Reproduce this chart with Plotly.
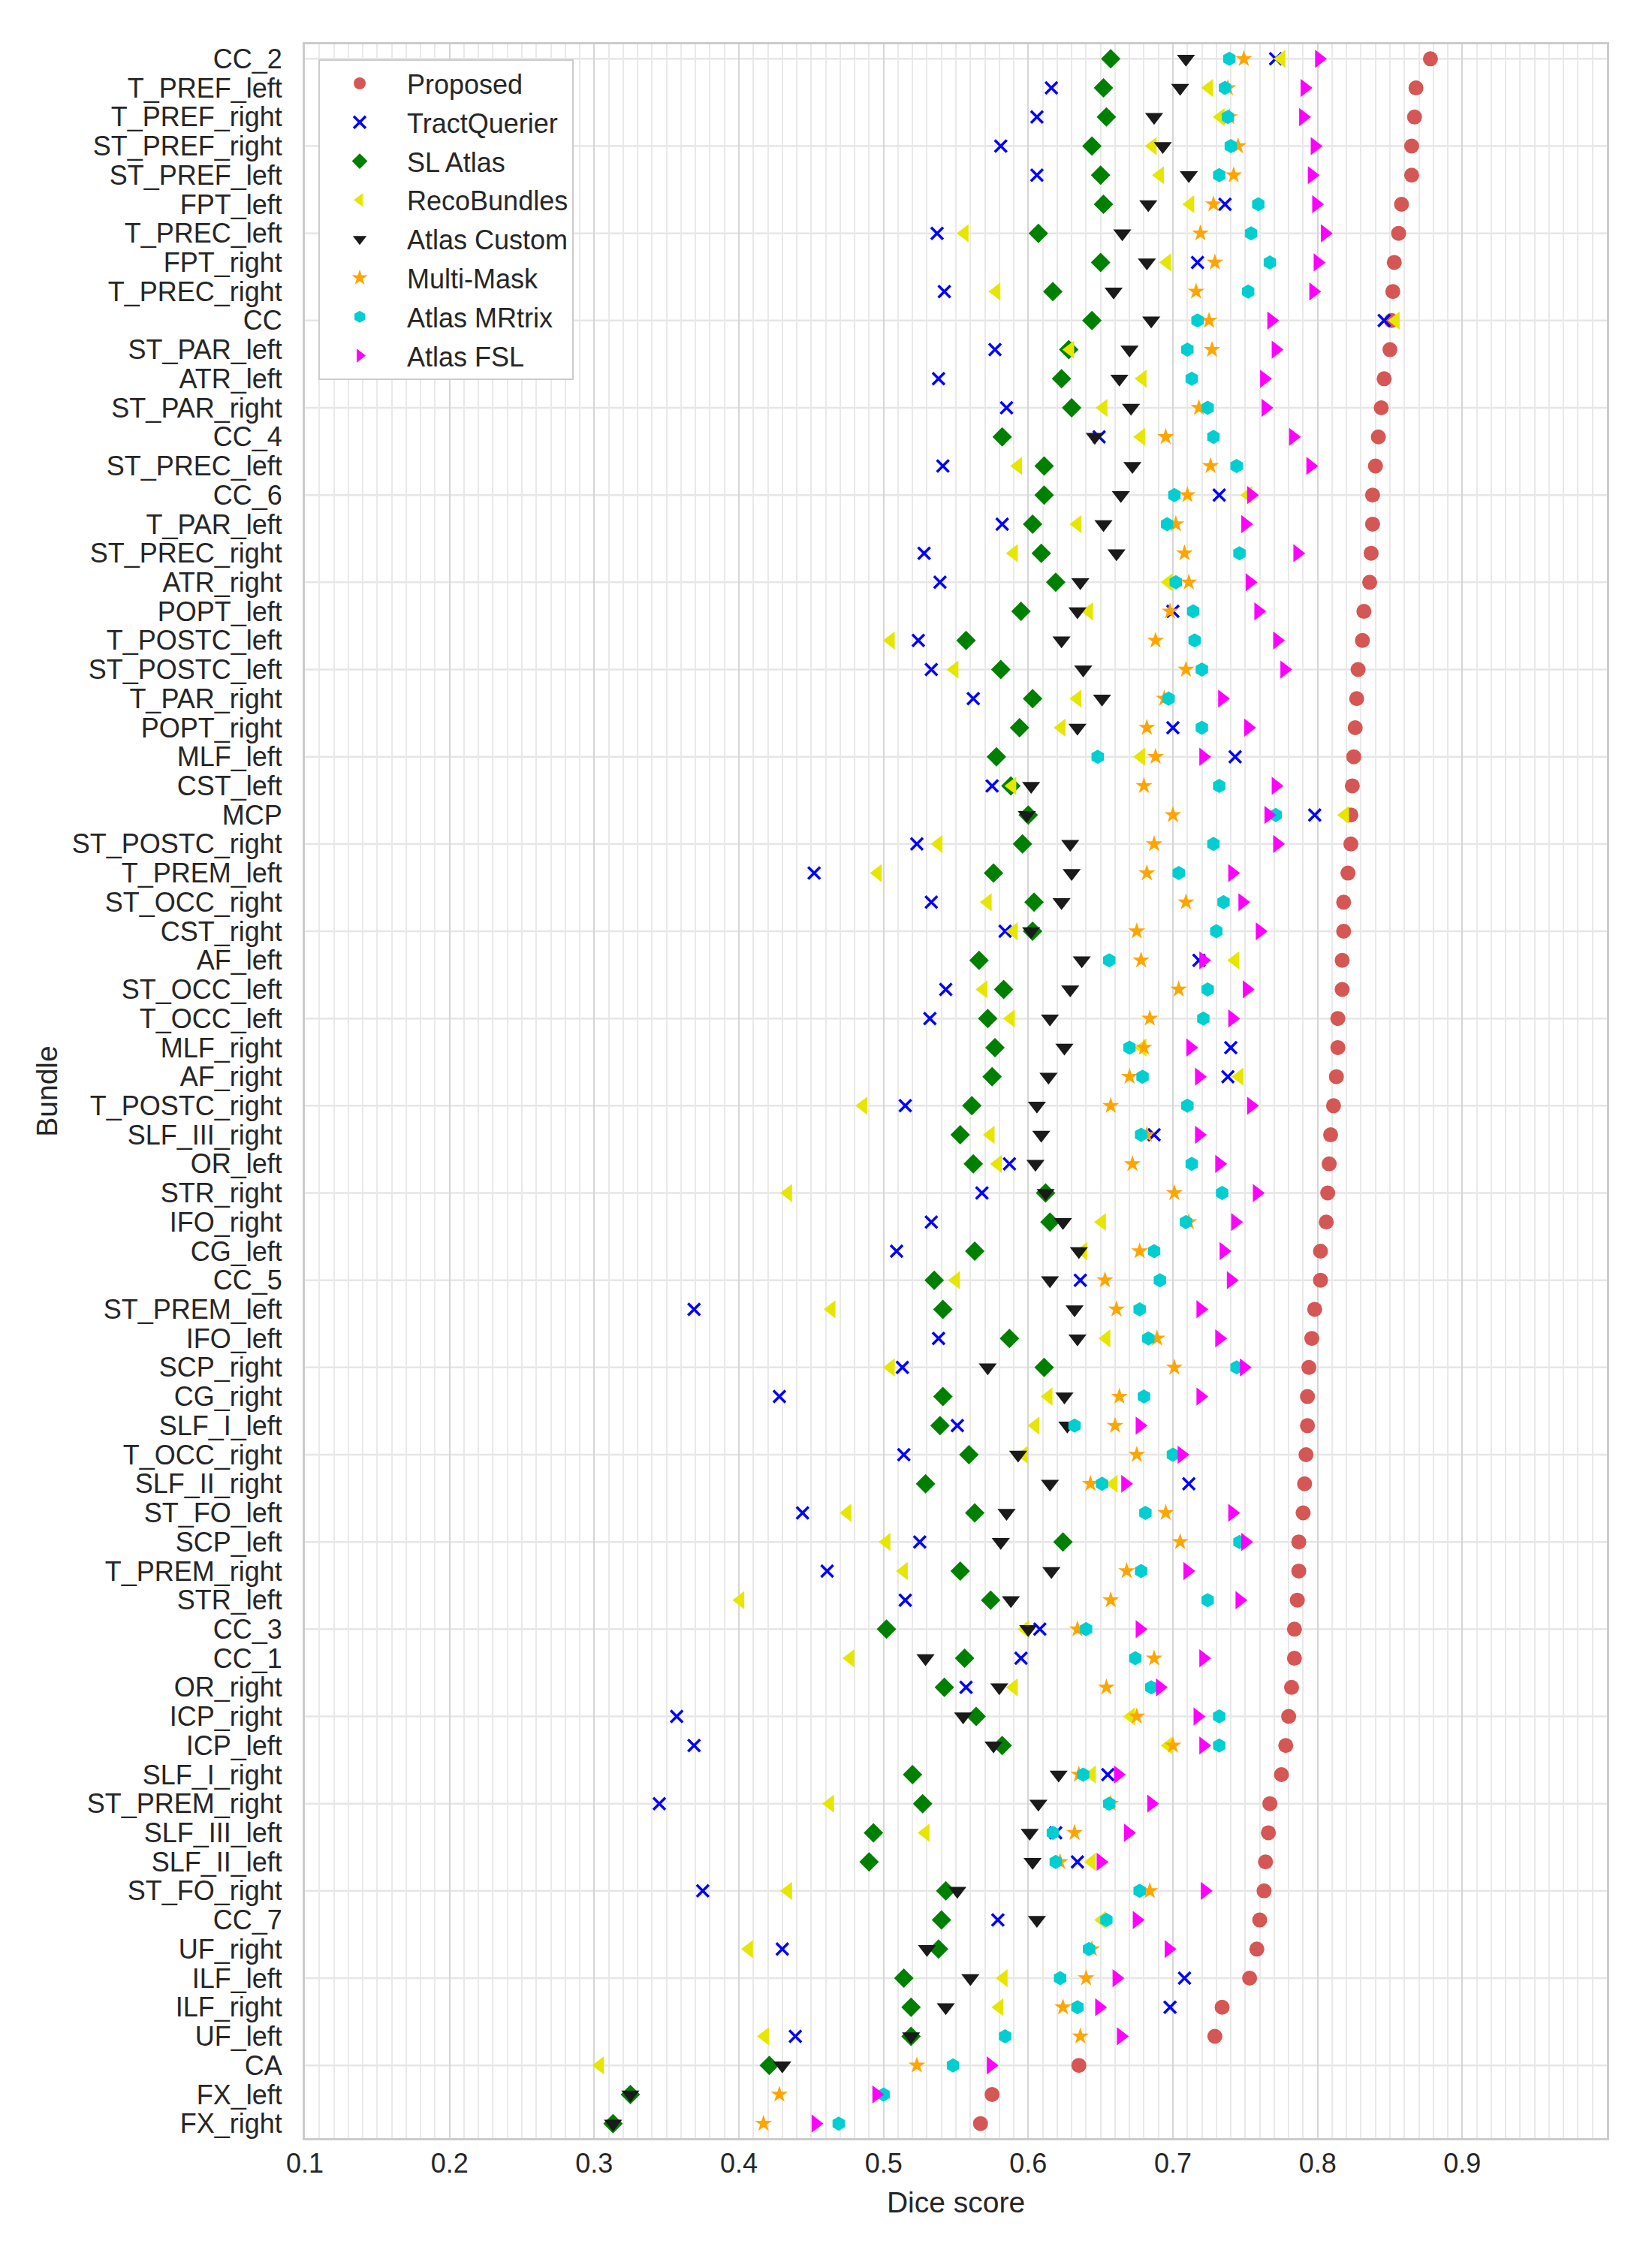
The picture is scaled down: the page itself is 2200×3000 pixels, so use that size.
import plotly.graph_objects as go

bundles = ["CC_2","T_PREF_left","T_PREF_right","ST_PREF_right","ST_PREF_left","FPT_left","T_PREC_left",
"FPT_right","T_PREC_right","CC","ST_PAR_left","ATR_left","ST_PAR_right","CC_4",
"ST_PREC_left","CC_6","T_PAR_left","ST_PREC_right","ATR_right","POPT_left","T_POSTC_left",
"ST_POSTC_left","T_PAR_right","POPT_right","MLF_left","CST_left","MCP","ST_POSTC_right",
"T_PREM_left","ST_OCC_right","CST_right","AF_left","ST_OCC_left","T_OCC_left","MLF_right",
"AF_right","T_POSTC_right","SLF_III_right","OR_left","STR_right","IFO_right","CG_left",
"CC_5","ST_PREM_left","IFO_left","SCP_right","CG_right","SLF_I_left","T_OCC_right",
"SLF_II_right","ST_FO_left","SCP_left","T_PREM_right","STR_left","CC_3","CC_1",
"OR_right","ICP_right","ICP_left","SLF_I_right","ST_PREM_right","SLF_III_left","SLF_II_left",
"ST_FO_right","CC_7","UF_right","ILF_left","ILF_right","UF_left","CA","FX_left","FX_right"]

proposed = [0.878,0.868,0.867,0.865,0.865,0.858,0.856,0.853,0.852,0.851,0.850,0.846,0.844,0.842,
0.840,0.838,0.838,0.837,0.836,0.832,0.831,0.828,0.827,0.826,0.825,0.824,0.823,0.823,
0.821,0.818,0.818,0.817,0.817,0.814,0.814,0.813,0.811,0.809,0.808,0.807,0.806,0.802,
0.802,0.798,0.796,0.794,0.793,0.793,0.792,0.791,0.790,0.787,0.787,0.786,0.784,0.784,
0.782,0.780,0.778,0.775,0.767,0.766,0.764,0.763,0.760,0.758,0.753,0.734,0.729,0.635,0.575,0.567]

tractquerier = [0.771,0.616,0.606,0.581,0.606,0.736,0.537,0.717,0.542,0.846,0.577,0.538,0.585,0.649,
0.541,0.732,0.582,0.528,0.539,0.700,0.524,0.533,0.562,0.700,0.743,0.575,0.798,0.523,
0.452,0.533,0.584,0.718,0.543,0.532,0.740,0.738,0.515,0.687,0.587,0.568,0.533,0.509,
0.636,0.369,0.538,0.513,0.428,0.551,0.514,0.711,0.444,0.525,0.461,0.515,0.608,0.595,
0.557,0.357,0.369,0.655,0.345,0.619,0.634,0.375,0.579,0.430,0.708,0.698,0.439,None,None,None]

sl_atlas = [0.657,0.652,0.654,0.644,0.650,0.652,0.607,0.650,0.617,0.644,0.628,0.623,0.630,0.582,
0.611,0.611,0.603,0.609,0.619,0.595,0.557,0.581,0.603,0.594,0.578,0.588,0.600,0.596,
0.576,0.604,0.603,0.566,0.583,0.572,0.577,0.575,0.561,0.553,0.562,0.612,0.615,0.563,
0.535,0.541,0.587,0.611,0.541,0.539,0.559,0.529,0.563,0.624,0.553,0.574,0.502,0.556,
0.542,0.564,0.582,0.520,0.527,0.493,0.490,0.543,0.540,0.538,0.514,0.519,0.519,0.421,0.325,0.313]

recobundles = [0.775,0.725,0.733,0.686,0.691,0.712,0.556,0.696,0.578,0.854,0.629,0.679,0.652,0.678,
0.593,0.752,0.634,0.590,0.697,0.642,0.505,0.549,0.634,0.623,0.678,0.589,0.819,0.538,
0.496,0.572,0.590,0.743,0.569,0.588,0.679,0.746,0.486,0.574,0.579,0.434,0.651,0.638,
0.550,0.464,0.654,0.505,0.614,0.605,0.597,0.659,0.475,0.502,0.514,0.401,0.598,0.477,
0.590,0.671,0.697,0.644,0.463,0.529,0.644,0.434,0.651,0.407,0.583,0.580,0.418,0.304,None,None]

atlas_custom = [0.709,0.705,0.687,0.693,0.711,0.683,0.665,0.682,0.659,0.685,0.670,0.663,0.671,0.646,
0.672,0.664,0.652,0.661,0.636,0.634,0.623,0.638,0.651,0.634,None,0.602,0.599,0.629,
0.630,0.623,0.602,0.637,0.629,0.615,0.625,0.614,0.606,0.609,0.605,0.612,0.624,0.635,
0.615,0.632,0.634,0.572,0.625,0.627,0.593,0.615,0.585,0.581,0.616,0.588,0.600,0.529,
0.580,0.555,0.576,0.621,0.607,0.601,0.603,0.551,0.606,0.530,0.560,0.543,0.519,0.430,0.325,0.313]

multi_mask = [0.749,0.738,0.739,0.745,0.742,0.728,0.719,0.729,0.716,0.725,0.727,None,0.718,0.695,
0.726,0.710,0.702,0.708,0.711,0.698,0.688,0.709,0.694,0.682,0.688,0.680,0.700,0.687,
0.682,0.709,0.675,0.678,0.704,0.684,0.680,0.670,0.657,0.682,0.672,0.701,0.711,0.677,
0.653,0.661,0.689,0.701,0.663,0.660,0.675,0.643,0.695,0.705,0.668,0.657,0.634,0.687,
0.654,0.675,0.700,0.635,0.657,0.632,0.622,0.684,None,0.644,0.640,0.624,0.636,0.523,0.428,0.417]

atlas_mrtrix = [0.739,0.736,0.738,0.740,0.732,0.759,0.754,0.767,0.752,0.717,0.710,0.713,0.724,0.728,
0.744,0.701,0.696,0.746,0.702,0.714,0.715,0.720,0.697,0.720,0.648,0.732,0.771,0.728,
0.704,0.735,0.730,0.656,0.724,0.721,0.670,0.679,0.710,0.678,0.713,0.734,0.709,0.687,
0.691,0.677,0.683,0.744,0.680,0.632,0.700,0.651,0.681,0.746,0.678,0.724,0.640,0.674,
0.685,0.732,0.732,0.638,0.656,0.617,0.619,0.677,0.654,0.642,0.622,0.634,0.584,0.548,0.500,0.469]

atlas_fsl = [0.801,0.791,0.790,0.798,0.796,0.799,0.805,0.800,0.797,0.768,0.771,0.763,0.764,0.783,
0.795,0.754,0.750,0.786,0.753,0.759,0.772,0.777,0.734,0.752,0.721,0.771,0.766,0.772,
0.741,0.748,0.760,0.721,0.751,0.741,0.712,0.718,0.754,0.718,0.732,0.758,0.743,0.735,
0.740,0.719,0.732,0.749,0.719,0.677,0.706,0.667,0.741,0.750,0.710,0.746,0.677,0.721,
0.691,0.717,0.721,0.662,0.685,0.669,0.650,0.722,0.675,0.697,0.661,0.649,0.664,0.574,0.495,0.453]

x_ticks = [0.1, 0.2, 0.3, 0.4, 0.5, 0.6, 0.7, 0.8, 0.9]
x_tick_text = ["0.1", "0.2", "0.3", "0.4", "0.5", "0.6", "0.7", "0.8", "0.9"]

series = [
    ("Proposed", proposed, "circle", "#d45755", 20),
    ("TractQuerier", tractquerier, "x-thin", "#0000ff", 16),
    ("SL Atlas", sl_atlas, "diamond", "#008000", 20),
    ("RecoBundles", recobundles, "triangle-left", "#e6e600", 21),
    ("Atlas Custom", atlas_custom, "triangle-down", "#1a1a1a", 21),
    ("Multi-Mask", multi_mask, "star", "#ffa500", 17),
    ("Atlas MRtrix", atlas_mrtrix, "hexagon", "#00ced1", 19),
    ("Atlas FSL", atlas_fsl, "triangle-right", "#ff00ff", 21),
]

FONT = "Liberation Sans, Arial, sans-serif"
TXT = "#262626"
PAD = "\u00a0"

fig = go.Figure()
for name, vals, sym, col, size in series:
    if sym == "x-thin":
        marker = dict(symbol=sym, size=size, color=col, line=dict(color=col, width=3.5))
    else:
        marker = dict(symbol=sym, size=size, color=col, line=dict(width=0))
    fig.add_trace(go.Scatter(x=vals, y=bundles, mode="markers", name=PAD + name,
                             marker=marker, legendgroup=name, cliponaxis=False))

for b in bundles[::3]:
    fig.add_shape(type="line", xref="paper", x0=0, x1=1, yref="y", y0=b, y1=b,
                  line=dict(color="#e6e6e6", width=2.5), layer="below")

fig.update_layout(
    width=2200, height=3000, autosize=False,
    margin=dict(l=406, r=60, t=59, b=153, pad=0),
    paper_bgcolor="white", plot_bgcolor="white",
    font=dict(family=FONT, size=36, color=TXT),
    showlegend=True,
    legend=dict(x=0.0104, y=0.9928, xanchor="left", yanchor="top",
                bgcolor="white", bordercolor="#cccccc", borderwidth=2,
                font=dict(size=36, color=TXT), tracegroupgap=2, itemwidth=96),
    xaxis=dict(range=[0.1, 1.0], tickvals=x_ticks, ticktext=x_tick_text,
               showgrid=True, gridcolor="#d6d6d6", gridwidth=2,
               minor=dict(dtick=0.01, tick0=0.1, showgrid=True, gridcolor="#e9e9e9", gridwidth=1.5),
               showline=True, linecolor="#cccccc", linewidth=3, mirror=True,
               ticks="", zeroline=False, tickfont=dict(size=36, color=TXT),
               title=dict(text="Dice score", font=dict(size=39, color=TXT), standoff=19)),
    yaxis=dict(type="category", categoryorder="array", categoryarray=bundles,
               tickmode="array", tickvals=bundles, ticktext=bundles,
               range=[len(bundles) - 0.5, -0.5], showgrid=False,
               showline=True, linecolor="#cccccc", linewidth=3, mirror=True,
               ticks="", ticklabelstandoff=20, tickfont=dict(size=36, color=TXT),
               title=dict(text="Bundle", font=dict(size=39, color=TXT), standoff=8)),
)

fig.write_html("out.html")
